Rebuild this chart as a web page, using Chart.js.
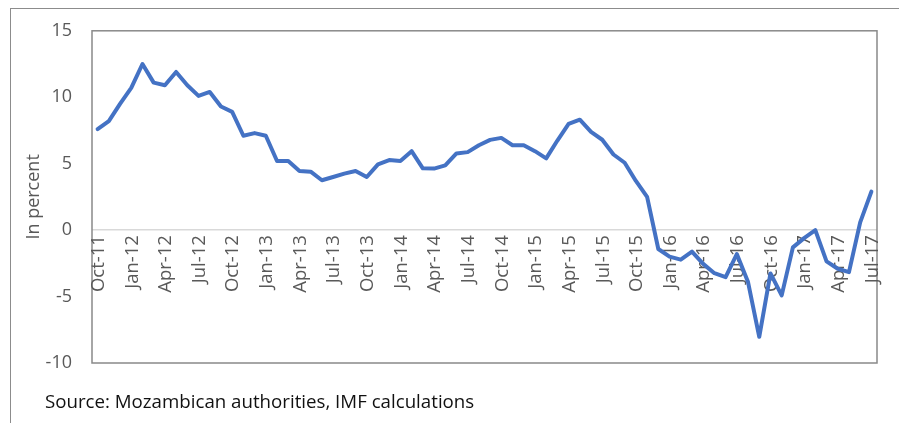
<!DOCTYPE html>
<html>
<head>
<meta charset="utf-8">
<script src="https://cdn.jsdelivr.net/npm/chart.js@4.4.1/dist/chart.umd.min.js"></script>
<style>
  body { margin: 0; background: #fff; }
  #wrap { position: relative; width: 899px; height: 423px; overflow: hidden; }
  #frame { position: absolute; left: 10px; top: 8px; width: 960px; height: 500px;
           border-left: 1.5px solid #8c8c8c; border-top: 1.5px solid #8c8c8c; }
  #source { position: absolute; left: 45px; top: 388px; font: 18.7px "Open Sans", sans-serif; color: #111; }
  canvas { position: absolute; left: 0; top: 0; }
</style>
</head>
<body>
<div id="wrap">
  <div id="frame"></div>
  <canvas id="chart" width="899" height="423"></canvas>
  <div id="source">Source: Mozambican authorities, IMF calculations</div>
</div>
<script>
// Monthly categories, Oct-11 .. Jul-17
const months = [
    'Oct-11', 'Nov-11', 'Dec-11',
    'Jan-12', 'Feb-12', 'Mar-12', 'Apr-12', 'May-12', 'Jun-12', 'Jul-12', 'Aug-12', 'Sep-12', 'Oct-12', 'Nov-12', 'Dec-12',
    'Jan-13', 'Feb-13', 'Mar-13', 'Apr-13', 'May-13', 'Jun-13', 'Jul-13', 'Aug-13', 'Sep-13', 'Oct-13', 'Nov-13', 'Dec-13',
    'Jan-14', 'Feb-14', 'Mar-14', 'Apr-14', 'May-14', 'Jun-14', 'Jul-14', 'Aug-14', 'Sep-14', 'Oct-14', 'Nov-14', 'Dec-14',
    'Jan-15', 'Feb-15', 'Mar-15', 'Apr-15', 'May-15', 'Jun-15', 'Jul-15', 'Aug-15', 'Sep-15', 'Oct-15', 'Nov-15', 'Dec-15',
    'Jan-16', 'Feb-16', 'Mar-16', 'Apr-16', 'May-16', 'Jun-16', 'Jul-16', 'Aug-16', 'Sep-16', 'Oct-16', 'Nov-16', 'Dec-16',
    'Jan-17', 'Feb-17', 'Mar-17', 'Apr-17', 'May-17', 'Jun-17', 'Jul-17'
];

// Year-on-year rate, in percent
const rate = [
    7.6, 8.2, 9.5,
    10.7, 12.5, 11.1, 10.9, 11.9, 10.9, 10.1, 10.4, 9.3, 8.9, 7.1, 7.3,
    7.1, 5.2, 5.2, 4.45, 4.4, 3.75, 4.0, 4.25, 4.45, 4.0, 4.95, 5.27,
    5.2, 5.94, 4.65, 4.63, 4.87, 5.77, 5.87, 6.39, 6.79, 6.94, 6.39, 6.39,
    5.94, 5.4, 6.74, 7.99, 8.31, 7.39, 6.8, 5.69, 5.07, 3.7, 2.5, -1.42,
    -1.99, -2.22, -1.62, -2.54, -3.24, -3.54, -1.8, -3.91, -8.03, -3.26, -4.91, -1.3,
    -0.6, 0.0, -2.35, -2.91, -3.16, 0.58, 2.9
];

const yTicks = [15, 10, 5, 0, -5, -10];

const GREY_TEXT = '#595959';
const FONT = '"Open Sans", sans-serif';

// frame round the plot area and the quarterly labels sitting under the zero line
const plotExtras = {
    id: 'plotExtras',
    beforeDatasetsDraw(chart) {
        const { ctx, chartArea, scales } = chart;
        ctx.save();
        ctx.strokeStyle = '#898989';
        ctx.lineWidth = 1.5;
        ctx.strokeRect(chartArea.left, chartArea.top, chartArea.width, chartArea.height);

        const y0 = scales.y.getPixelForValue(0);
        ctx.font = '18.5px ' + FONT;
        ctx.fillStyle = GREY_TEXT;
        ctx.textAlign = 'right';
        ctx.textBaseline = 'middle';
        months.forEach((m, i) => {
            if (i % 3 !== 0) return;
            ctx.save();
            ctx.translate(scales.x.getPixelForValue(i) + 1, y0 + 5);
            ctx.rotate(-Math.PI / 2);
            ctx.fillText(m, 0, 0);
            ctx.restore();
        });
        ctx.restore();
    }
};

new Chart(document.getElementById('chart'), {
    type: 'line',
    data: {
        labels: months,
        datasets: [{
            data: rate,
            borderColor: '#4472c4',
            borderWidth: 4,
            borderJoinStyle: 'round',
            borderCapStyle: 'round',
            pointRadius: 0,
            tension: 0,
            fill: false
        }]
    },
    options: {
        responsive: false,
        animation: false,
        layout: { padding: { left: 0, top: 29, right: 22, bottom: 60 } },
        plugins: {
            legend: { display: false },
            tooltip: { enabled: false }
        },
        scales: {
            x: {
                type: 'category',
                offset: true,
                ticks: { display: false },
                grid: { display: false },
                border: { display: false },
                afterFit: (s) => { s.height = 0; }
            },
            y: {
                min: -10,
                max: 15,
                afterBuildTicks: (s) => { s.ticks = yTicks.map(v => ({ value: v })); },
                afterFit: (s) => { s.width = 92; },
                ticks: {
                    color: GREY_TEXT,
                    font: { family: FONT, size: 18 },
                    padding: 20
                },
                grid: {
                    drawTicks: false,
                    lineWidth: 1.5,
                    color: (c) => (c.tick && c.tick.value === 0) ? '#d9d9d9' : 'transparent'
                },
                border: { display: false },
                title: {
                    display: true,
                    text: 'In percent',
                    color: GREY_TEXT,
                    font: { family: FONT, size: 18 },
                    padding: { top: 23, bottom: 0 }
                }
            }
        }
    },
    plugins: [plotExtras]
});
</script>
</body>
</html>
